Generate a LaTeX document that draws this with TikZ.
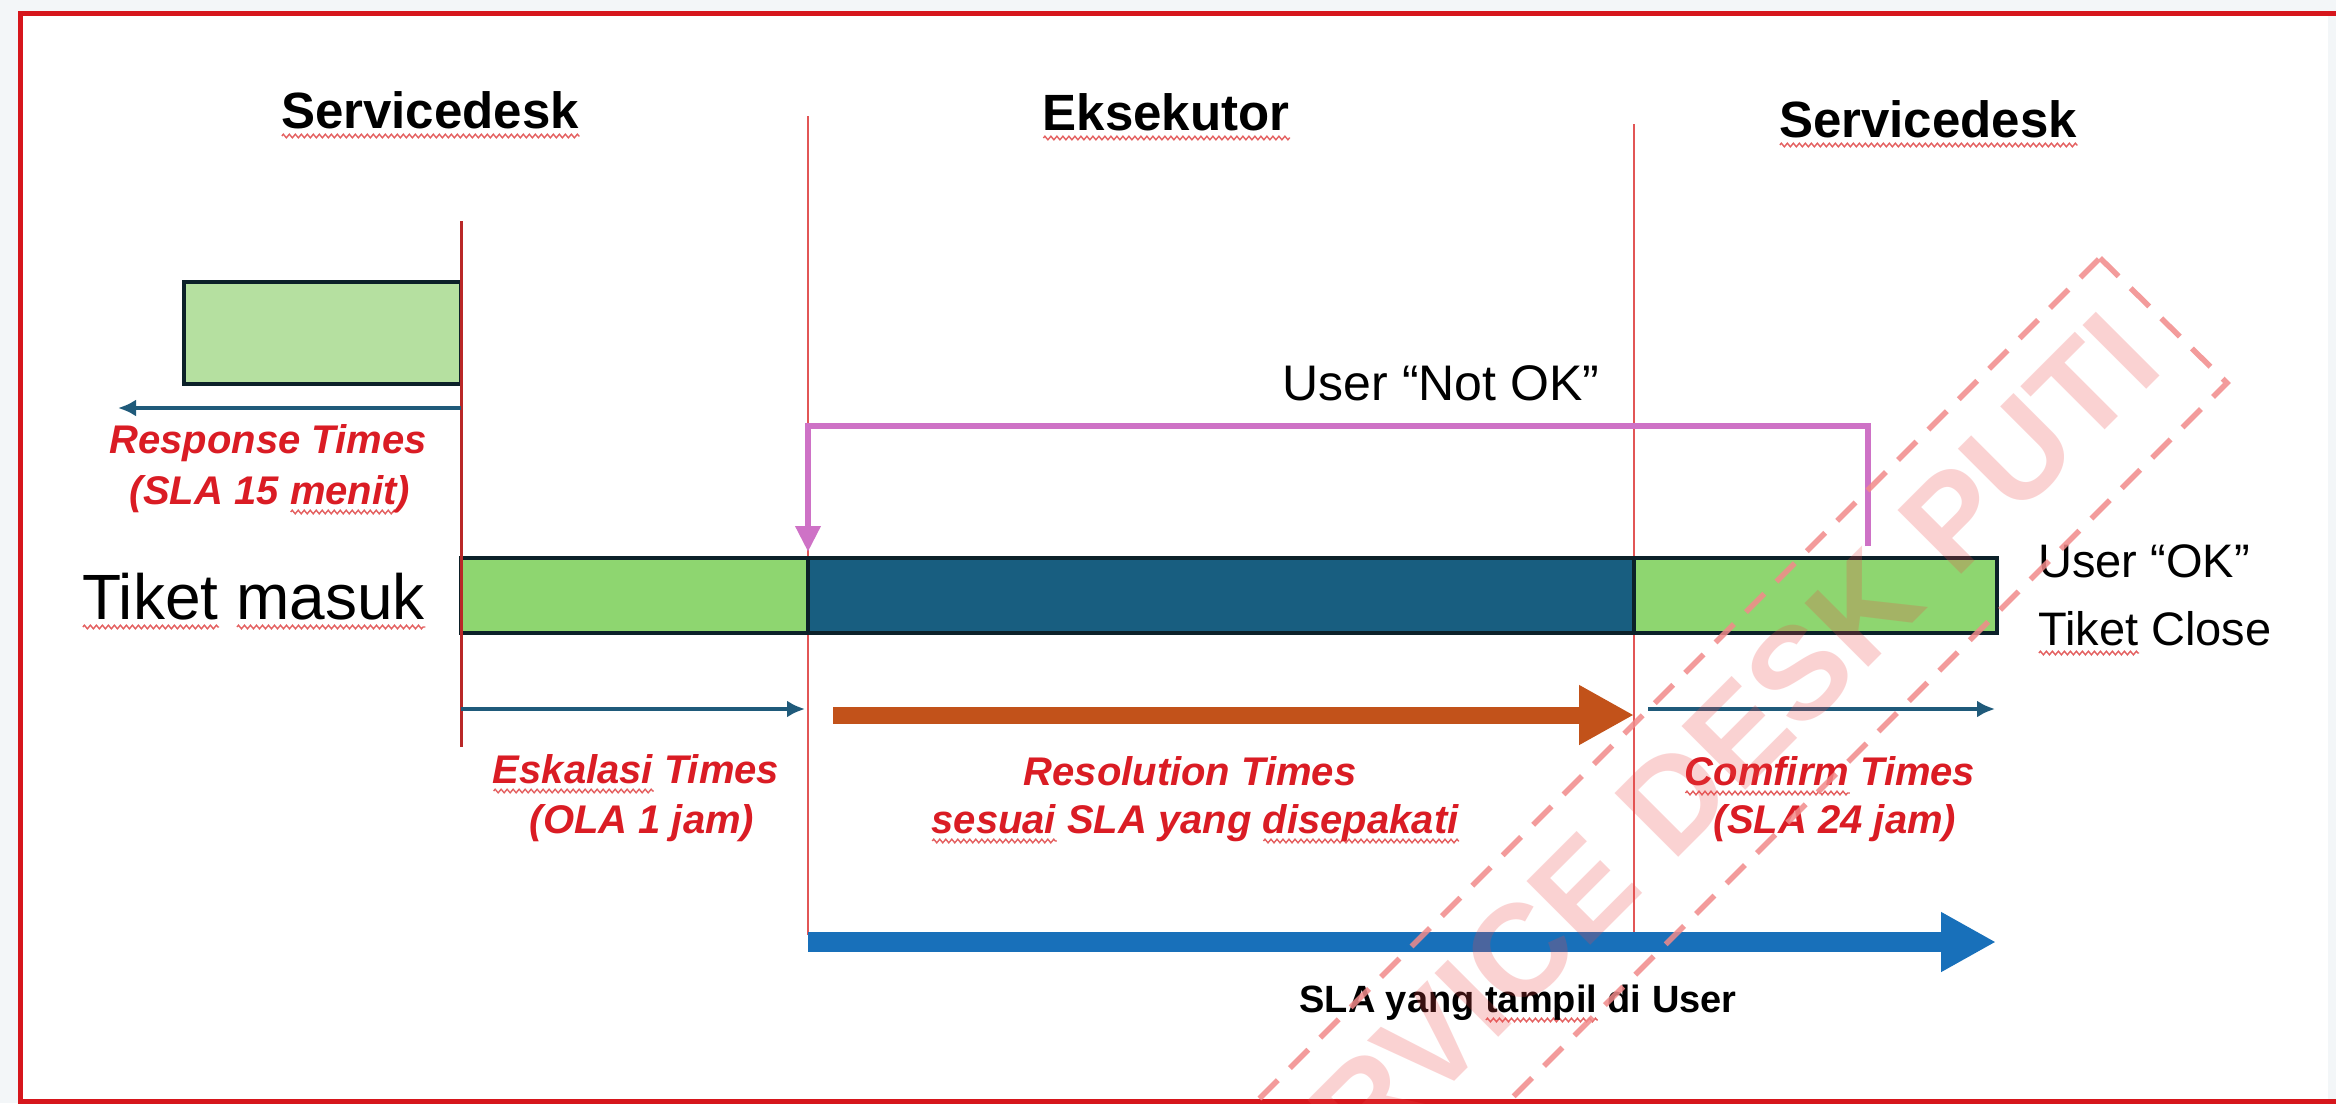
\documentclass[tikz,border=0pt]{standalone}
\usepackage{fontspec}
\setmainfont{Liberation Sans}
\usetikzlibrary{arrows.meta,decorations.pathmorphing}

\definecolor{pagebg}{RGB}{243,246,248}
\definecolor{framered}{RGB}{214,22,28}
\definecolor{vredA}{RGB}{185,40,40}
\definecolor{vredB}{RGB}{226,86,86}
\definecolor{lightgreen}{RGB}{181,224,160}
\definecolor{bargreen}{RGB}{142,214,112}
\definecolor{bardark}{RGB}{24,94,128}
\definecolor{barborder}{RGB}{12,33,41}
\definecolor{tealarrow}{RGB}{31,90,122}
\definecolor{orangearrow}{RGB}{194,82,26}
\definecolor{bluearrow}{RGB}{24,112,186}
\definecolor{pinkline}{RGB}{206,114,198}
\definecolor{lblred}{RGB}{218,28,36}
\definecolor{spellred}{RGB}{228,96,96}
\definecolor{wmred}{RGB}{238,70,70}
\definecolor{wmdash}{RGB}{242,138,138}

% word with a wavy spell-check mark below it
\newbox\sqbox
\newdimen\sqwd
\newcommand\sqz[1]{\setbox\sqbox=\hbox{#1}\sqwd=\wd\sqbox\rlap{\tikz[baseline=0pt,x=1pt,y=1pt]\draw[spellmark] (0pt,-8pt) -- (\sqwd,-8pt);}\box\sqbox}

\tikzset{
  spellmark/.style={draw=spellred, line width=1.4pt, decorate,
    decoration={zigzag, amplitude=1.8pt, segment length=6pt}},
  hdr/.style={font=\fontsize{51}{60}\selectfont\bfseries, inner sep=0pt, anchor=base},
  txt/.style={font=\fontsize{#1}{#1}\selectfont, inner sep=0pt, anchor=base west},
  lbl/.style={font=\fontsize{40}{48}\selectfont\bfseries\itshape, text=lblred, inner sep=0pt, anchor=base},
  vlineA/.style={draw=vredA, line width=3pt},
  vlineB/.style={draw=vredB, line width=2.2pt},
  bar/.style={draw=barborder, line width=4pt},
  tealarr/.style={draw=tealarrow, line width=4pt, -{Latex[length=18pt,width=17pt]}},
  fatarr/.style={line width=#1, -{Triangle[length=55pt,width=56pt]}},
  pinkarr/.style={draw=pinkline, line width=6.5pt, -{Triangle[length=26pt,width=24pt]}},
}

\begin{document}
\begin{tikzpicture}[x=1pt,y=-1pt]
\useasboundingbox (0,0) rectangle (2336,1103);
\clip (0,0) rectangle (2336,1103);

% page and red frame
\fill[pagebg] (0,0) rectangle (2336,1103);
\fill[white] (20,13) rectangle (2328,1101);
\draw[framered, line width=5pt] (2400,13) -- (20,13) -- (20,1101) -- (2400,1101);

% phase separators
\coordinate (l1t) at (461,221);  \coordinate (l1b) at (461,747);
\coordinate (l2t) at (808,116);  \coordinate (l2b) at (808,935);
\coordinate (l3t) at (1634,124); \coordinate (l3b) at (1634,935);
\draw[vlineB] (l2t) -- (l2b);
\draw[vlineB] (l3t) -- (l3b);

% response block
\draw[bar, fill=lightgreen] (184,282) rectangle (461,384);

% ticket timeline bar
\draw[bar, fill=bargreen] (461,558) rectangle (808,633);
\draw[bar, fill=bardark]  (808,558) rectangle (1634,633);
\draw[bar, fill=bargreen] (1634,558) rectangle (1997,633);

\draw[vlineA] (l1t) -- (l1b);

% headers
\node[hdr] (hsd1) at (430,128) {\sqz{Servicedesk}};
\node[hdr] (heks) at (1166,130) {\sqz{Eksekutor}};
\node[hdr] (hsd2) at (1928,137) {\sqz{Servicedesk}};

% side texts
\node[txt=64] (masuk) at (82,619) {\sqz{Tiket} \sqz{masuk}};
\node[txt=47] (okA) at (2038,577) {User “OK”};
\node[txt=47] (okB) at (2038,645) {\sqz{Tiket} Close};
\node[font=\fontsize{50}{50}\selectfont, inner sep=0pt, anchor=base] (notok) at (1441,400) {User “Not OK”};

% rework loop
\coordinate (nokA) at (1868,546);
\coordinate (nokB) at (808,552);
\draw[pinkarr] (nokA) -- ++(0,-120) -| (nokB);

% response time
\coordinate (respS) at (461,408);
\coordinate (respE) at (118,408);
\draw[tealarr] (respS) -- (respE);
\node[lbl] (resp1) at (268,453) {Response Times};
\node[lbl] (resp2) at (270,504) {(SLA 15 \sqz{menit})};

% escalation time
\coordinate (eskS) at (461,709);
\coordinate (eskE) at (805,709);
\draw[tealarr] (eskS) -- (eskE);
\node[lbl] (esk1) at (636,783) {\sqz{Eskalasi} Times};
\node[lbl] (esk2) at (642,833) {(OLA 1 jam)};

% resolution time
\coordinate (resS) at (833,715);
\coordinate (resE) at (1634,715);
\draw[fatarr=17pt, draw=orangearrow, fill=orangearrow] (resS) -- (resE);
\node[lbl] (res1) at (1190,785) {Resolution Times};
\node[lbl] (res2) at (1195,833) {\sqz{sesuai} SLA yang \sqz{disepakati}};

% confirmation time
\coordinate (cfS) at (1648,709);
\coordinate (cfE) at (1995,709);
\draw[tealarr] (cfS) -- (cfE);
\node[lbl] (cf1) at (1830,785) {\sqz{Comfirm} Times};
\node[lbl] (cf2) at (1835,833) {(SLA 24 jam)};

% SLA seen by the user
\coordinate (slaS) at (808,942);
\coordinate (slaE) at (1996,942);
\draw[fatarr=20pt, draw=bluearrow, fill=bluearrow] (slaS) -- (slaE);
\node[font=\fontsize{38}{38}\selectfont\bfseries, inner sep=0pt, anchor=base] (slauser) at (1518,1012) {SLA yang \sqz{tampil} di User};

% stamp
\node[font=\fontsize{131}{131}\selectfont\bfseries, text=wmred, text opacity=0.24,
      inner sep=0pt, rotate=45] (stamp) at (1672,800) {SERVICE DESK PUTI};
\coordinate (wmA) at (2100,258);
\coordinate (wmB) at (2227,383);
\draw[wmdash, line width=5.5pt, dash pattern=on 26pt off 17pt, opacity=0.85]
  (wmA) -- (wmB) -- ++(-1100,1100) -- ++(-127,-125) -- cycle;
\end{tikzpicture}
\end{document}
